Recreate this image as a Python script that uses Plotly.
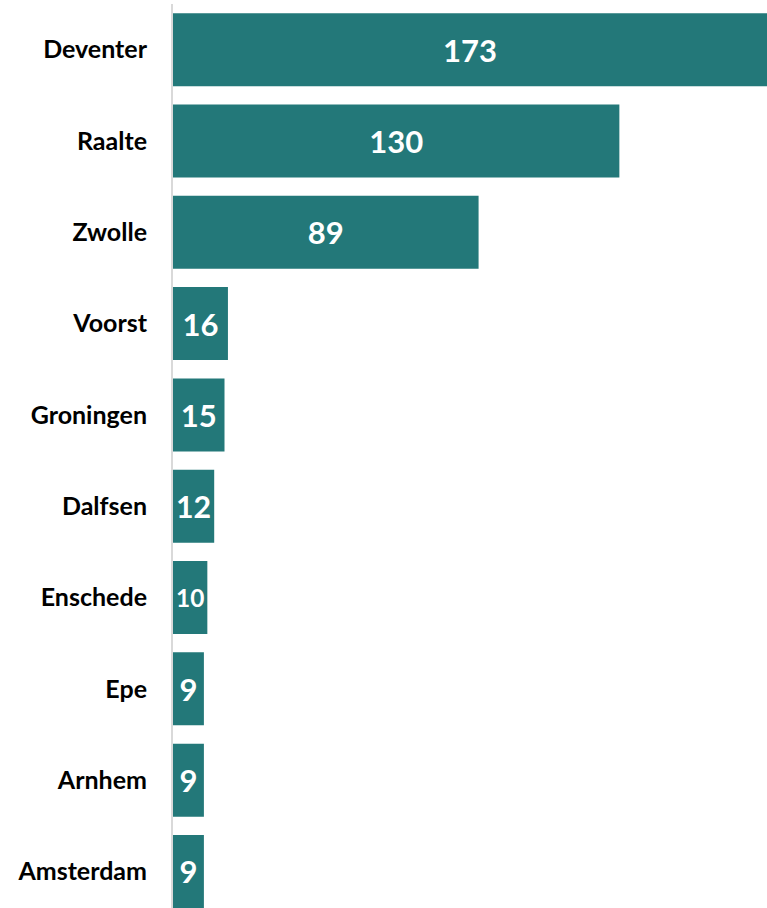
import plotly.graph_objects as go

categories = ["Deventer", "Raalte", "Zwolle", "Voorst", "Groningen",
              "Dalfsen", "Enschede", "Epe", "Arnhem", "Amsterdam"]
values = [173, 130, 89, 16, 15, 12, 10, 9, 9, 9]
labels = [str(v) for v in values]

fig = go.Figure(go.Bar(
    x=values,
    y=categories,
    orientation="h",
    marker=dict(color="#237879", line=dict(width=0)),
    text=labels,
    textposition="inside",
    insidetextanchor="middle",
    textangle=0,
    textfont=dict(family="Lato", size=31, color="white", weight="bold"),
    hoverinfo="skip",
))

fig.update_layout(
    width=767, height=908,
    margin=dict(l=173, r=0, t=4, b=0),
    paper_bgcolor="white", plot_bgcolor="white",
    bargap=0.2,
    showlegend=False,
    xaxis=dict(range=[0, 173], showgrid=False, zeroline=False,
               showticklabels=False, ticks="", showline=False, fixedrange=True),
    yaxis=dict(categoryorder="array", categoryarray=categories,
               range=[9.4, -0.5], showgrid=False, zeroline=False,
               showline=True, linecolor="#d9d9d9", linewidth=2,
               ticks="", ticklabelstandoff=19,
               tickfont=dict(family="Lato", size=25, color="black", weight="bold")),
)

post = ("document.body.style.margin='0px';"
        "document.body.style.overflow='hidden';"
        "var gd=document.getElementById('{plot_id}');"
        "Plotly.relayout(gd,{width:767,height:908});")

fig.write_html("out.html", post_script=post,
               config={"displayModeBar": False, "staticPlot": True})
